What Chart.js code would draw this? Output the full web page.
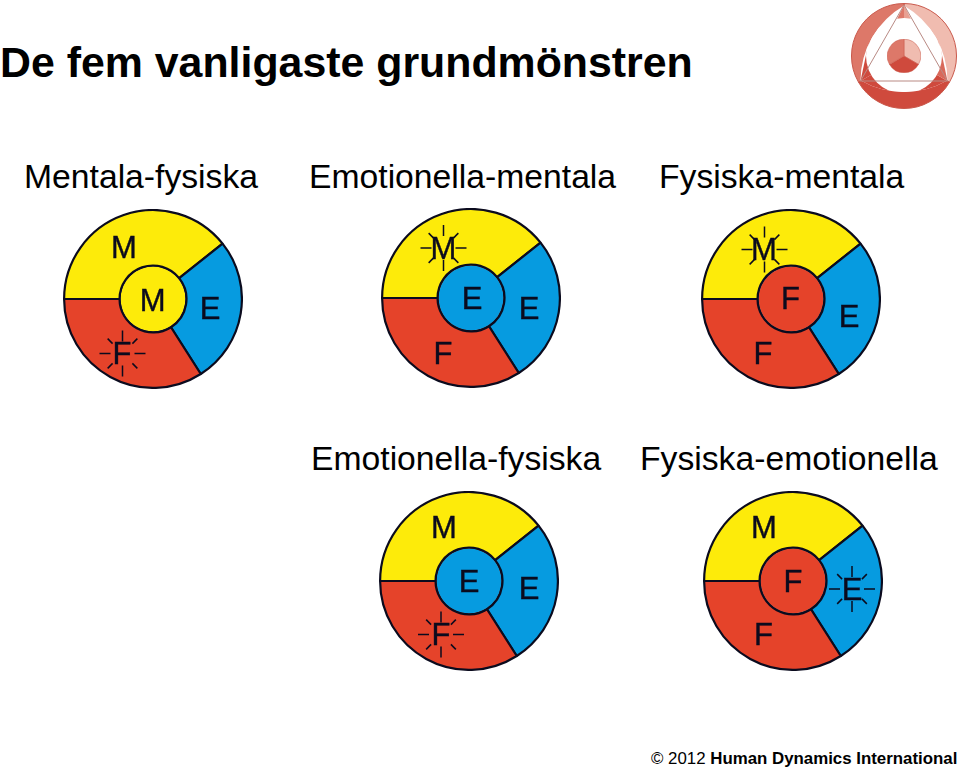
<!DOCTYPE html>
<html><head><meta charset="utf-8">
<style>
html,body{margin:0;padding:0;background:#fff;width:960px;height:769px;overflow:hidden}
body{position:relative;font-family:"Liberation Sans",Arial,sans-serif;color:#000}
.t{position:absolute;white-space:nowrap;line-height:1}
canvas{position:absolute}
.l{position:absolute;line-height:1;font-size:31px;color:#0b0b1e;-webkit-text-stroke:0.4px #0b0b1e;transform:translate(-50%,-50%)}
</style></head><body>
<script src="https://cdn.jsdelivr.net/npm/chart.js@4"></script>
<script>
// ---- data ----
const title = "De fem vanligaste grundmönstren";
const footerPlain = "© 2012 ";
const footerBold = "Human Dynamics International";
const chartNames = ["Mentala-fysiska","Emotionella-mentala","Fysiska-mentala","Emotionella-fysiska","Fysiska-emotionella"];
const sliceLabels = ["M","E","F"];
const sliceValues = [141.5,96,122.5];
const centerLabels = ["M","E","F","E","F"];
const sparkLabels = ["F","M","M","F","E"];
const logoValues = [120,120,120];

// ---- styling / layout ----
const colors = {M:"#FDEB0A",E:"#069BE0",F:"#E5432A"};
const ink = "#0b0b1e";
const nameLeft = [24,309,659,311,640];
const nameBase = [189,189,189,471,471];
const centers = [[152.5,298.5],[471,298],[790.5,298.5],[469,580.5],[793,581]];
// letter positions on the page: outer M, outer E, outer F, centre
const letterPos = [
 {M:[124,247],E:[210,308],F:[122,353],c:[152.7,300]},
 {M:[443.5,248],E:[529,308],F:[443,353],c:[472,298]},
 {M:[764,249],E:[849,316],F:[763,353],c:[790.5,298]},
 {M:[444,527],E:[529,588],F:[441,634],c:[469,581]},
 {M:[764,527],E:[852,589],F:[763.5,634],c:[793,581]}
];
const sizeBox = 180;

function text(str,left,baseline,size,bold){
  const d=document.createElement('div');d.className='t';d.textContent=str;
  d.style.cssText=`left:${left}px;top:${baseline-0.8465*size}px;font-size:${size}px;font-weight:${bold?'bold':'normal'}`;
  document.body.appendChild(d);return d;
}
text(title,0,77.5,42.85,true);
chartNames.forEach((n,i)=>text(n,nameLeft[i],nameBase[i],33.7,false));
const f=text(footerPlain,651,765,16.85,false);
const fb=document.createElement('b');fb.textContent=footerBold;f.appendChild(fb);

function mkCanvas(x,y,w,h){
  const c=document.createElement('canvas');
  c.style.left=x+'px';c.style.top=y+'px';c.style.width=w+'px';c.style.height=h+'px';
  c.width=w;c.height=h;document.body.appendChild(c);return c;
}
const base={responsive:false,animation:false,devicePixelRatio:1,
  plugins:{legend:{display:false},tooltip:{enabled:false}},events:[]};

function letter(s,p){
  const d=document.createElement('div');d.className='l';d.textContent=s;
  d.style.left=p[0]+'px';d.style.top=p[1]+'px';document.body.appendChild(d);
}

chartNames.forEach((n,i)=>{
  const [cx,cy]=centers[i];
  const left=cx-sizeBox/2, top=cy-sizeBox/2;
  const pos=letterPos[i];
  const sp=sparkLabels[i];
  const spark={id:'spark',afterDraw(ch){
    const g=ch.ctx,px=pos[sp][0]-left,py=pos[sp][1]-top;
    g.save();g.strokeStyle=ink;g.lineWidth=1.5;
    for(let k=0;k<8;k++){
      const a=k*Math.PI/4,diag=k%2===1,r0=diag?14:12,r1=diag?21:23;
      g.beginPath();g.moveTo(px+Math.cos(a)*r0,py+Math.sin(a)*r0);
      g.lineTo(px+Math.cos(a)*r1,py+Math.sin(a)*r1);g.stroke();
    }
    g.restore();
  }};
  new Chart(mkCanvas(left,top,sizeBox,sizeBox),{
    type:'doughnut',
    data:{labels:sliceLabels,datasets:[
      {data:sliceValues,weight:55.5,backgroundColor:sliceLabels.map(l=>colors[l]),borderColor:ink,borderWidth:2.2},
      {data:[1],weight:1,backgroundColor:[ink],borderWidth:0},
      {data:[1],weight:32.5,backgroundColor:[colors[centerLabels[i]]],borderWidth:0}
    ]},
    options:{...base,cutout:0,rotation:-90,layout:{padding:0}},
    plugins:[spark]
  });
  sliceLabels.forEach(l=>letter(l,pos[l]));
  letter(centerLabels[i],pos.c);
});

// ---- logo ----
const logoCols=["#F0BCB0","#CF4A3D","#DD7869"];
const lc=[904,55.5];
const logoPlugin={id:'logoShape',afterDatasetsDraw(ch){
  const g=ch.ctx;
  const cx=ch.width/2,cy=ch.height/2;
  const A=[0,-51],B=[-43.5,25],C=[43.5,25],R=87;
  g.save();g.translate(cx,cy);
  const ang=(P,Q)=>Math.atan2(Q[1]-P[1],Q[0]-P[0]);
  g.beginPath();
  g.moveTo(A[0],A[1]);
  g.arc(C[0],C[1],R,ang(C,A),ang(C,B),true);
  g.arc(A[0],A[1],R,ang(A,B),ang(A,C),true);
  g.arc(B[0],B[1],R,ang(B,C),ang(B,A),true);
  g.closePath();g.fillStyle="#fff";g.fill();
  g.save();g.clip();
  const fan=(col,P,Q1,Q2)=>{g.fillStyle=col;g.beginPath();g.moveTo(P[0],P[1]);g.lineTo(Q1[0],Q1[1]);g.lineTo(Q2[0],Q2[1]);g.closePath();g.fill();};
  fan(logoCols[2],A,[-25,-1],[0,-1]);
  fan("#E8A092",A,[25,-1],[0,-1]);
  fan(logoCols[1],B,[-12,40],[0,0]);
  fan(logoCols[1],B,[-35,-15],[0,0]);
  fan(logoCols[1],C,[12,40],[0,0]);
  fan("#D9695A",C,[35,-15],[0,0]);
  g.fillStyle="#fff";g.beginPath();g.arc(0,0,38,0,Math.PI*2);g.fill();
  g.restore();
  g.strokeStyle="#B98A84";g.lineWidth=1;g.beginPath();g.moveTo(A[0],A[1]);g.lineTo(B[0],B[1]);g.lineTo(C[0],C[1]);g.closePath();g.stroke();
  g.restore();
}};
new Chart(mkCanvas(lc[0]-53,lc[1]-53,106,106),{
  type:'pie',data:{labels:sliceLabels,datasets:[{data:logoValues,backgroundColor:logoCols,borderColor:"#C9584B",borderWidth:1}]},
  options:{...base,rotation:0,layout:{padding:0}},plugins:[logoPlugin]
});
new Chart(mkCanvas(lc[0]-17,lc[1]-17,34,34),{
  type:'pie',data:{labels:sliceLabels,datasets:[{data:logoValues,backgroundColor:logoCols,borderColor:"#C9584B",borderWidth:0.5}]},
  options:{...base,rotation:0,layout:{padding:0}}
});
</script>
</body></html>
